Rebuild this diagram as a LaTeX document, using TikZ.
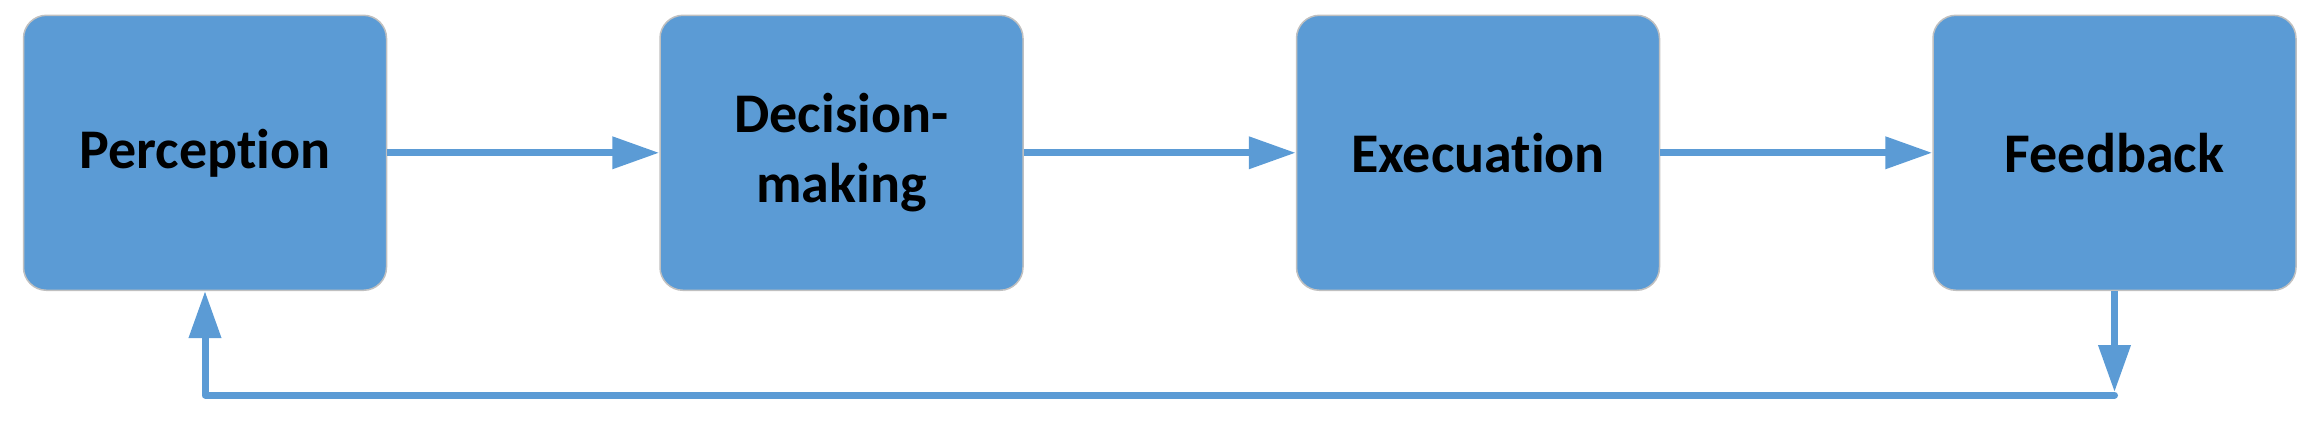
\documentclass[tikz,border=0pt]{standalone}
\usepackage{fontspec}
\setmainfont{Carlito}[Ligatures={NoCommon,NoContextual,NoRequired}]
\usetikzlibrary{positioning,arrows.meta}
\definecolor{boxblue}{HTML}{5B9BD5}
\definecolor{boxrim}{HTML}{C0C0C0}

\begin{document}
\begin{tikzpicture}[
		node distance=136pt,
		font=\bfseries\fontsize{28}{35}\selectfont,
		stagebox/.style={
			draw=boxrim,line width=0.75pt,fill=boxblue,rounded corners=11.5pt,
			minimum width=181.5pt,minimum height=137.5pt,inner sep=0pt,align=center
		},
		flow/.style={
			draw=boxblue,line width=3.5pt,-{Triangle[length=23.5pt,width=15.5pt]}
		}
		]
		\useasboundingbox (0,0) rectangle (1157.5pt,-210.5pt);
		\node[stagebox] (perc) at (102.5pt,-76.4pt) {Percep{}tion}; % first stage
		\node[stagebox,right=of perc] (deci) {Decision-\\making};
		\node[stagebox,right=of deci] (exec) {Execua{}tion};
		\node[stagebox,right=of exec] (feed) {Feedback};
		\coordinate[below=52pt of feed.south] (turn); % loop back
		
		\draw[flow] (perc) -- (deci);
		\draw[flow] (deci) -- (exec);
		\draw[flow] (exec) -- (feed);
		\draw[flow] (feed) -- ([yshift=1.5pt]turn);
		\draw[flow,line cap=round,line join=round] (turn) -| (perc);
		\end{tikzpicture}
\end{document}
